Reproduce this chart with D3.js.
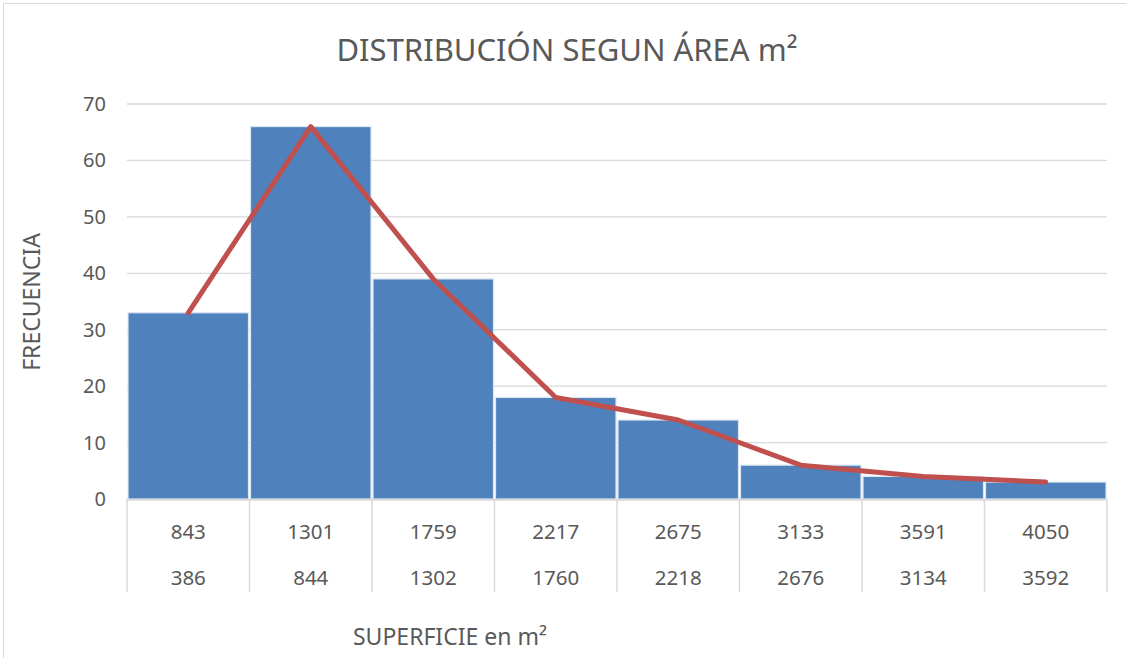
<!DOCTYPE html>
<html>
<head>
<meta charset="utf-8">
<script src="https://cdn.jsdelivr.net/npm/d3@7"></script>
<style>
  html, body { margin: 0; padding: 0; background: #fff; }
  svg text { font-family: "Noto Sans", sans-serif; fill: #595959; }
</style>
</head>
<body>
<svg id="chart" width="1126" height="658"></svg>
<script>
// Class upper bounds (first row) and lower bounds (second row)
const upperBounds = ["843", "1301", "1759", "2217", "2675", "3133", "3591", "4050"];
const lowerBounds = ["386", "844", "1302", "1760", "2218", "2676", "3134", "3592"];
// Frequency per class
const frequencies = [33, 66, 39, 18, 14, 6, 4, 3];
const yTicks = [0, 10, 20, 30, 40, 50, 60, 70];

const svg = d3.select("#chart");
const W = 1126, H = 658;
const m = { left: 127, right: 1107, top: 104, bottom: 499 };

// chart frame
svg.append("rect")
  .attr("x", 3.5).attr("y", 3.5)
  .attr("width", W + 10).attr("height", H + 10)
  .attr("fill", "#fff").attr("stroke", "#d9d9d9").attr("stroke-width", 1);

const cats = d3.range(frequencies.length);
const x = d3.scaleBand().domain(cats).range([m.left, m.right]).paddingInner(0).paddingOuter(0);
const y = d3.scaleLinear().domain([0, 70]).range([m.bottom, m.top]);

// gridlines
svg.append("g").selectAll("line").data(yTicks).join("line")
  .attr("x1", m.left).attr("x2", m.right)
  .attr("y1", d => y(d)).attr("y2", d => y(d))
  .attr("stroke", "#d9d9d9").attr("stroke-width", 1.3);

// y tick labels
svg.append("g").selectAll("text").data(yTicks).join("text")
  .attr("x", 106).attr("y", d => y(d))
  .attr("dy", "0.35em")
  .attr("text-anchor", "end")
  .style("font-size", "20px")
  .text(d => d);

// bars
svg.append("g").selectAll("rect").data(frequencies).join("rect")
  .attr("x", (d, i) => x(i) + 1)
  .attr("y", d => y(d))
  .attr("width", x.bandwidth() - 2)
  .attr("height", d => y(0) - y(d))
  .attr("fill", "#4f81bd")
  .attr("stroke", "#dce6f2").attr("stroke-width", 1.2);

// frequency polygon
const line = d3.line()
  .x((d, i) => x(i) + x.bandwidth() / 2)
  .y(d => y(d));
svg.append("path")
  .datum(frequencies)
  .attr("d", line)
  .attr("fill", "none")
  .attr("stroke", "#c0504d")
  .attr("stroke-width", 5)
  .attr("stroke-linejoin", "round")
  .attr("stroke-linecap", "round");

// category table lines
const tableBottom = 592;
const edges = cats.map(i => x(i)).concat([x(cats.length - 1) + x.bandwidth()]);
svg.append("g").selectAll("line").data(edges).join("line")
  .attr("x1", d => d).attr("x2", d => d)
  .attr("y1", m.bottom).attr("y2", tableBottom)
  .attr("stroke", "#d9d9d9").attr("stroke-width", 1.5);
svg.append("line")
  .attr("x1", m.left).attr("x2", m.right)
  .attr("y1", m.bottom + 1).attr("y2", m.bottom + 1)
  .attr("stroke", "#d9d9d9").attr("stroke-width", 1.5);

// category labels
svg.append("g").selectAll("text").data(upperBounds).join("text")
  .attr("x", (d, i) => x(i) + x.bandwidth() / 2)
  .attr("y", 532).attr("dy", "0.35em")
  .attr("text-anchor", "middle")
  .style("font-size", "20.5px")
  .text(d => d);
svg.append("g").selectAll("text").data(lowerBounds).join("text")
  .attr("x", (d, i) => x(i) + x.bandwidth() / 2)
  .attr("y", 578).attr("dy", "0.35em")
  .attr("text-anchor", "middle")
  .style("font-size", "20.5px")
  .text(d => d);

// title
svg.append("text")
  .attr("x", 567).attr("y", 50).attr("dy", "0.35em")
  .attr("text-anchor", "middle")
  .style("font-size", "31px")
  .text("DISTRIBUCIÓN SEGUN ÁREA m²");

// axis titles
svg.append("text")
  .attr("transform", "translate(32,302) rotate(-90)")
  .attr("dy", "0.35em")
  .attr("text-anchor", "middle")
  .style("font-size", "23px")
  .text("FRECUENCIA");

svg.append("text")
  .attr("x", 450).attr("y", 637).attr("dy", "0.35em")
  .attr("text-anchor", "middle")
  .style("font-size", "23px")
  .text("SUPERFICIE en m²");
</script>
</body>
</html>
